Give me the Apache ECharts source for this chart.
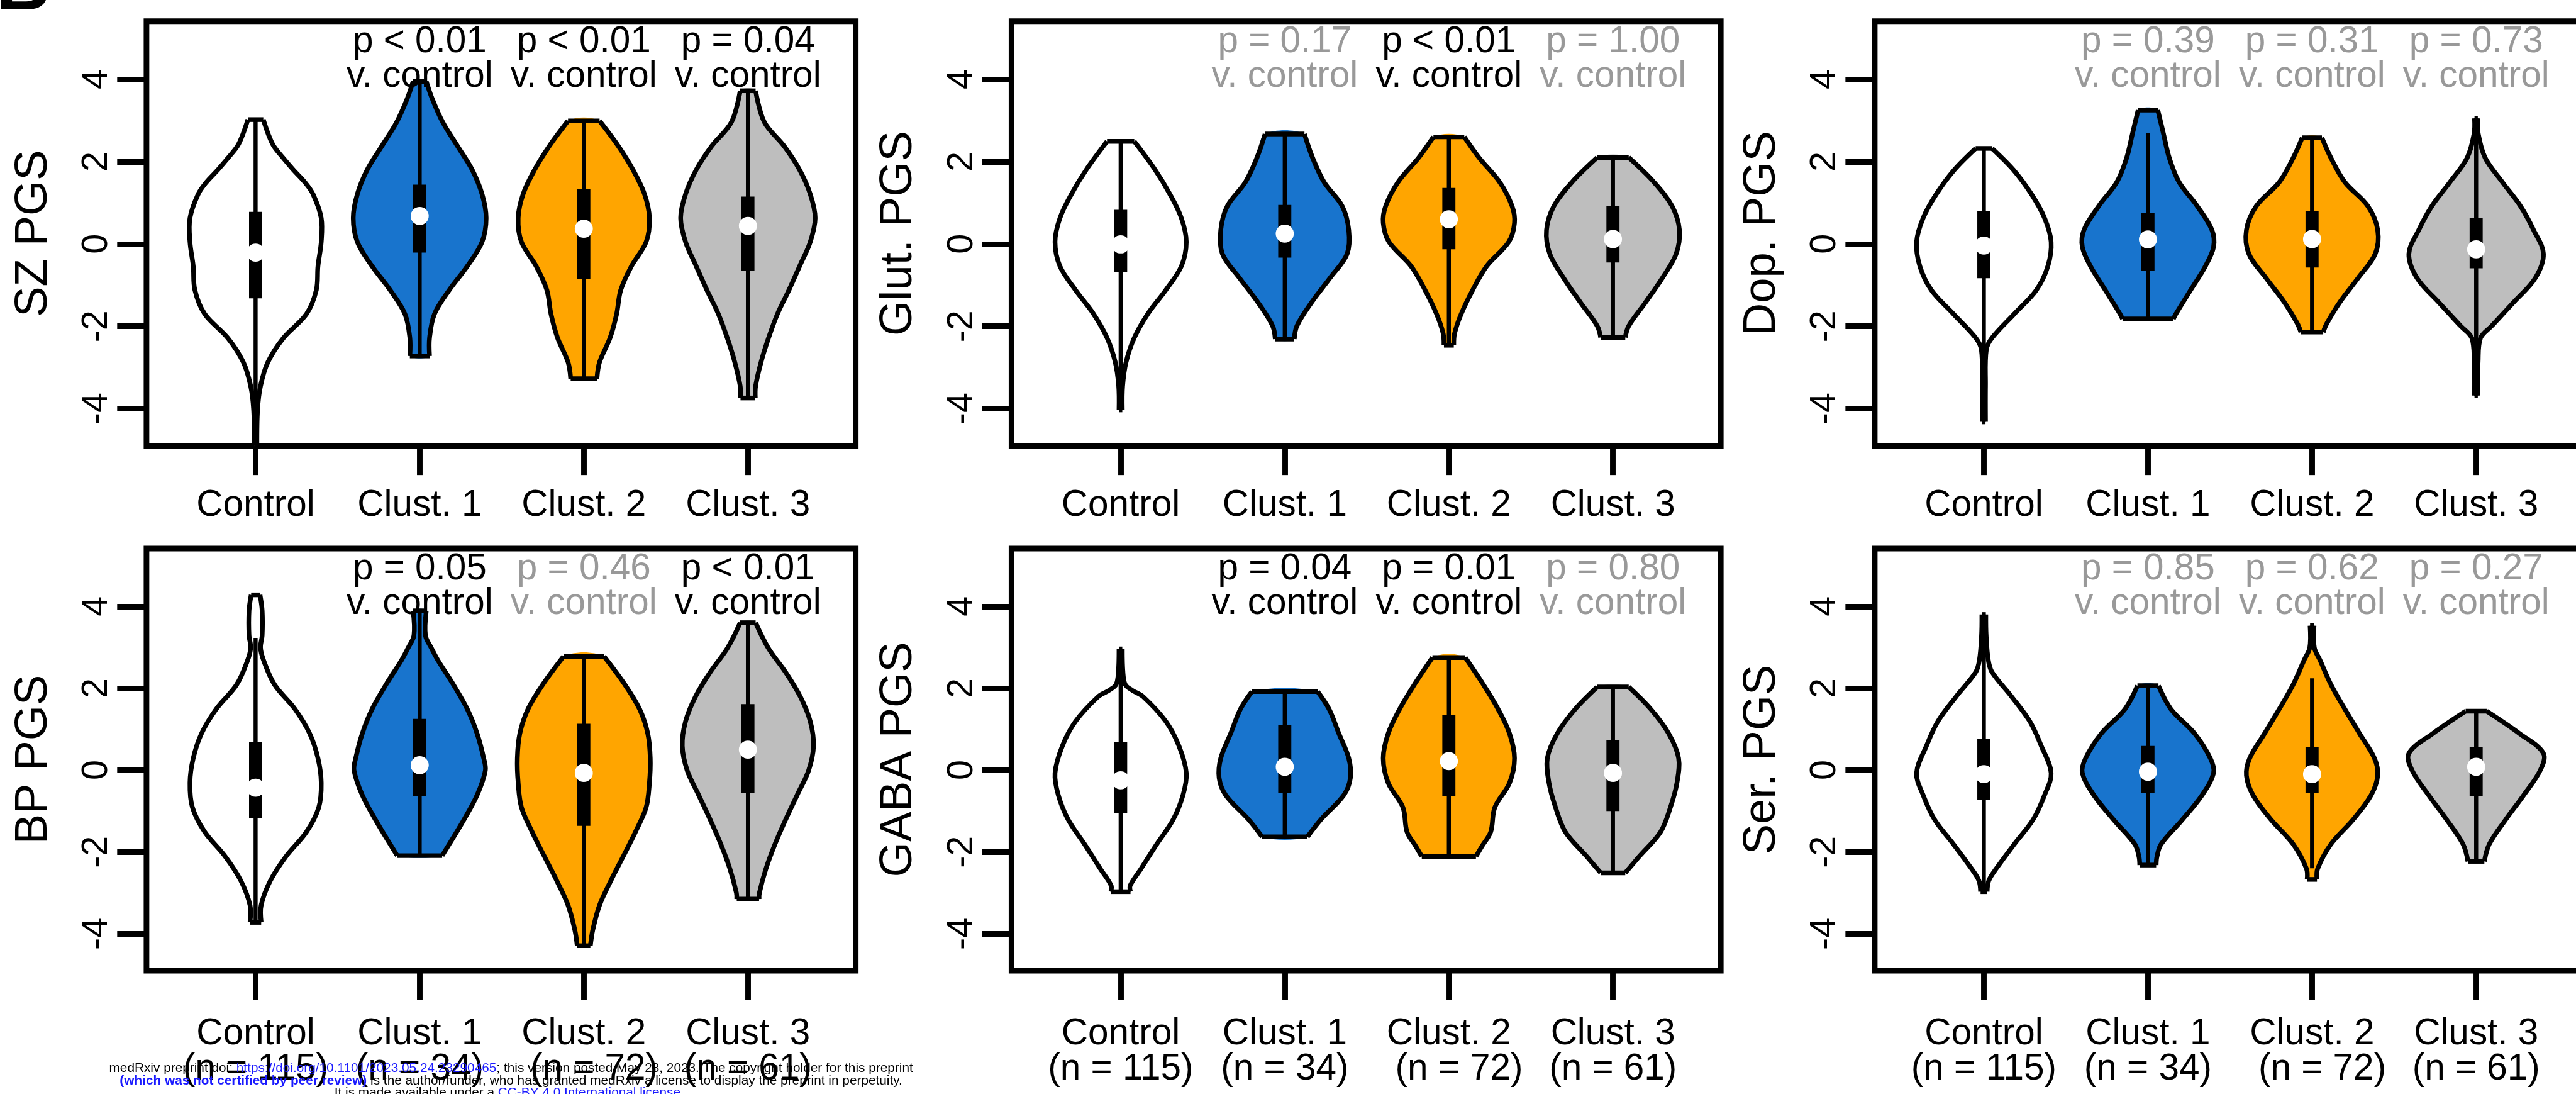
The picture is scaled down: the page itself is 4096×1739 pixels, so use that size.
<!DOCTYPE html>
<html>
<head>
<meta charset="utf-8">
<script src="https://cdn.jsdelivr.net/npm/echarts@6.0.0/dist/echarts.min.js"></script>
<style>
html, body { margin: 0; padding: 0; background: #fff; }
#chart { width: 4096px; height: 1739px; }
</style>
</head>
<body>
<div id="chart"></div>
<script>
const S = 0.991;
const FONT = 'Liberation Sans, Arial, Helvetica, sans-serif';
const SMOOTH = 0.35;

const groups = ['Control', 'Clust. 1', 'Clust. 2', 'Clust. 3'];
const groupSizes = ['(n = 115)', '(n = 34)', '  (n = 72)', '(n = 61)'];
const panelNames = ['SZ PGS', 'Glut. PGS', 'Dop. PGS', 'BP PGS', 'GABA PGS', 'Ser. PGS'];
const yTicks = [-4, -2, 0, 2, 4];
const groupFills = ['#ffffff', '#1874cd', '#ffa500', '#bebebe'];

// p values of each cluster v. control, and whether they are drawn black
const szP = ['p < 0.01', 'p < 0.01', 'p = 0.04'];
const szSig = [true, true, true];
const glutP = ['p = 0.17', 'p < 0.01', 'p = 1.00'];
const glutSig = [false, true, false];
const dopP = ['p = 0.39', 'p = 0.31', 'p = 0.73'];
const dopSig = [false, false, false];
const bpP = ['p = 0.05', 'p = 0.46', 'p < 0.01'];
const bpSig = [true, false, true];
const gabaP = ['p = 0.04', 'p = 0.01', 'p = 0.80'];
const gabaSig = [true, true, false];
const serP = ['p = 0.85', 'p = 0.62', 'p = 0.27'];
const serSig = [false, false, false];

// violin outlines, top to bottom: [PGS value, half width in group units]
const szControl = [[3.02,0.047],[2.67,0.077],[2.38,0.11],[2.08,0.17],[1.80,0.23],[1.50,0.30],[1.21,0.35],[0.63,0.40],[0.05,0.40],[-0.54,0.38],[-1.12,0.37],[-1.70,0.31],[-2.28,0.17],[-2.87,0.075],[-3.45,0.03],[-4.03,0.012],[-4.9,0.008]];
const szClust1 = [[3.95,0.04],[3.54,0.075],[2.96,0.14],[2.38,0.23],[1.80,0.32],[1.21,0.38],[0.63,0.405],[0.05,0.38],[-0.54,0.29],[-1.12,0.18],[-1.70,0.09],[-2.28,0.06],[-2.72,0.06]];
const szClust2 = [[2.99,0.096],[2.38,0.21],[1.80,0.30],[1.21,0.37],[0.63,0.40],[0.05,0.38],[-0.54,0.29],[-1.12,0.225],[-1.70,0.20],[-2.28,0.16],[-2.87,0.096],[-3.27,0.08]];
const szClust3 = [[3.72,0.047],[2.96,0.10],[2.38,0.22],[1.80,0.315],[1.21,0.38],[0.63,0.41],[0.05,0.38],[-0.54,0.315],[-1.12,0.25],[-1.70,0.18],[-2.28,0.126],[-2.87,0.08],[-3.45,0.047],[-3.74,0.045]];

const glutControl = [[2.49,0.083],[1.80,0.21],[1.21,0.30],[0.63,0.37],[0.05,0.40],[-0.54,0.37],[-1.12,0.275],[-1.70,0.165],[-2.28,0.083],[-2.87,0.033],[-3.45,0.012],[-4.03,0.01]];
const glutClust1 = [[2.67,0.12],[2.09,0.17],[1.50,0.24],[0.92,0.35],[0.34,0.39],[-0.24,0.38],[-0.83,0.275],[-1.41,0.165],[-1.99,0.074],[-2.31,0.058]];
const glutClust2 = [[2.60,0.094],[2.09,0.185],[1.50,0.31],[0.92,0.385],[0.51,0.40],[0.05,0.365],[-0.54,0.23],[-1.12,0.145],[-1.70,0.075],[-2.17,0.035],[-2.46,0.03]];
const glutClust3 = [[2.10,0.096],[1.50,0.25],[0.92,0.36],[0.34,0.405],[-0.24,0.385],[-0.83,0.30],[-1.41,0.20],[-1.99,0.096],[-2.27,0.075]];

const dopControl = [[2.32,0.05],[1.80,0.18],[1.21,0.29],[0.63,0.37],[0.05,0.41],[-0.54,0.39],[-1.12,0.32],[-1.70,0.185],[-2.28,0.05],[-2.57,0.015],[-3.45,0.01],[-4.32,0.01]];
const dopClust1 = [[3.25,0.06],[2.67,0.095],[2.09,0.13],[1.50,0.19],[0.92,0.30],[0.34,0.39],[-0.07,0.40],[-0.54,0.35],[-1.12,0.26],[-1.70,0.17],[-1.82,0.155]];
const dopClust2 = [[2.58,0.06],[2.09,0.115],[1.50,0.20],[0.92,0.34],[0.34,0.40],[-0.24,0.385],[-0.83,0.28],[-1.41,0.17],[-1.93,0.09],[-2.14,0.068]];
const dopClust3 = [[3.05,0.01],[2.67,0.013],[2.09,0.055],[1.50,0.16],[0.92,0.27],[0.34,0.35],[-0.24,0.41],[-0.83,0.36],[-1.41,0.23],[-1.99,0.095],[-2.28,0.027],[-2.87,0.012],[-3.68,0.01]];

const bpControl = [[4.28,0.027],[3.89,0.04],[3.29,0.04],[2.99,0.03],[2.69,0.048],[2.09,0.115],[1.49,0.24],[0.89,0.33],[0.29,0.38],[-0.31,0.40],[-0.91,0.385],[-1.51,0.31],[-2.11,0.185],[-2.70,0.09],[-3.30,0.034],[-3.72,0.034]];
const bpClust1 = [[3.89,0.04],[3.29,0.035],[2.99,0.07],[2.69,0.11],[2.09,0.205],[1.49,0.29],[0.89,0.35],[0.29,0.39],[-0.01,0.40],[-0.61,0.35],[-1.21,0.27],[-1.81,0.18],[-2.09,0.137]];
const bpClust2 = [[2.78,0.123],[2.09,0.25],[1.49,0.34],[0.89,0.39],[0.29,0.405],[-0.31,0.40],[-0.91,0.38],[-1.51,0.315],[-2.11,0.24],[-2.70,0.165],[-3.30,0.096],[-3.90,0.055],[-4.29,0.04]];
const bpClust3 = [[3.60,0.047],[2.99,0.123],[2.39,0.23],[1.79,0.32],[1.19,0.38],[0.59,0.40],[-0.01,0.37],[-0.61,0.30],[-1.21,0.23],[-1.81,0.165],[-2.41,0.11],[-3.00,0.07],[-3.15,0.068]];

const gabaControl = [[2.96,0.01],[2.39,0.014],[2.09,0.028],[1.95,0.07],[1.79,0.138],[1.19,0.275],[0.59,0.355],[-0.07,0.40],[-0.61,0.38],[-1.21,0.32],[-1.81,0.22],[-2.41,0.124],[-2.82,0.058],[-2.97,0.06]];
const gabaClust1 = [[1.92,0.20],[1.49,0.27],[0.89,0.33],[0.29,0.39],[-0.19,0.40],[-0.61,0.36],[-1.21,0.22],[-1.63,0.138]];
const gabaClust2 = [[2.75,0.10],[2.09,0.21],[1.49,0.30],[0.89,0.37],[0.29,0.40],[-0.31,0.37],[-0.91,0.28],[-1.51,0.255],[-1.87,0.20],[-2.11,0.165]];
const gabaClust3 = [[2.03,0.096],[1.49,0.23],[0.89,0.34],[0.29,0.40],[-0.31,0.39],[-0.91,0.35],[-1.51,0.29],[-2.11,0.16],[-2.51,0.075]];

const serControl = [[3.80,0.012],[3.29,0.014],[2.69,0.027],[2.39,0.05],[1.79,0.17],[1.19,0.28],[0.59,0.35],[-0.07,0.41],[-0.61,0.37],[-1.21,0.30],[-1.81,0.185],[-2.41,0.075],[-2.70,0.03],[-2.97,0.02]];
const serClust1 = [[2.06,0.064],[1.49,0.14],[0.89,0.285],[0.29,0.38],[-0.07,0.40],[-0.61,0.33],[-1.21,0.21],[-1.81,0.08],[-2.11,0.055],[-2.32,0.05]];
const serClust2 = [[3.53,0.012],[2.99,0.014],[2.69,0.048],[2.09,0.115],[1.49,0.20],[0.89,0.29],[0.29,0.38],[-0.13,0.40],[-0.61,0.36],[-1.21,0.25],[-1.81,0.115],[-2.41,0.034],[-2.67,0.03]];
const serClust3 = [[1.44,0.064],[0.89,0.265],[0.41,0.41],[-0.01,0.39],[-0.61,0.29],[-1.21,0.18],[-1.81,0.08],[-2.23,0.05]];

// box stats per group: [lower whisker, Q1, median, Q3, upper whisker]
const szBox = [[-4.9,-1.32,-0.21,0.78,3.02],[-2.72,-0.21,0.68,1.44,3.95],[-3.27,-0.86,0.37,1.33,2.99],[-3.74,-0.65,0.44,1.15,3.72]];
const glutBox = [[-4.03,-0.68,-0.01,0.83,2.49],[-2.31,-0.33,0.25,0.95,2.67],[-2.46,-0.13,0.60,1.36,2.60],[-2.27,-0.45,0.12,0.92,2.10]];
const dopBox = [[-4.32,-0.83,-0.04,0.80,2.32],[-1.82,-0.65,0.11,0.75,2.70],[-2.14,-0.57,0.12,0.80,2.58],[-3.68,-0.59,-0.13,0.63,3.05]];
const bpBox = [[-3.72,-1.18,-0.43,0.68,3.23],[-2.09,-0.64,0.12,1.25,3.89],[-4.29,-1.36,-0.07,1.13,2.78],[-3.15,-0.55,0.50,1.61,3.60]];
const gabaBox = [[-2.97,-1.06,-0.25,0.68,2.96],[-1.63,-0.55,0.08,1.10,1.92],[-2.11,-0.64,0.22,1.34,2.75],[-2.51,-1.00,-0.07,0.74,2.03]];
const serBox = [[-2.97,-0.73,-0.10,0.77,3.80],[-2.32,-0.55,-0.04,0.59,2.06],[-2.40,-0.55,-0.10,0.56,2.24],[-2.23,-0.64,0.08,0.56,1.44]];

const violins = [
  [szControl, szClust1, szClust2, szClust3],
  [glutControl, glutClust1, glutClust2, glutClust3],
  [dopControl, dopClust1, dopClust2, dopClust3],
  [bpControl, bpClust1, bpClust2, bpClust3],
  [gabaControl, gabaClust1, gabaClust2, gabaClust3],
  [serControl, serClust1, serClust2, serClust3]
];
const boxes = [szBox, glutBox, dopBox, bpBox, gabaBox, serBox];
const pTexts = [szP, glutP, dopP, bpP, gabaP, serP];
const pSig = [szSig, glutSig, dopSig, bpSig, gabaSig, serSig];

// layout in reference pixels
const colLeft = [235, 1623, 3008];
const colWidth = 1138;
const rowTop = [34, 880];
const rowHeight = [681, 677];
const X_MIN = 0.335, X_MAX = 4.657;
const Y_MIN = -4.9, Y_MAX = 5.41;

function outline() {
  return { stroke: '#000', lineWidth: 7.5 * S, fill: 'none', lineJoin: 'round' };
}

function violinRenderer(k) {
  return function (params, api) {
    const g = params.dataIndex;
    const xc = api.value(0);
    const prof = violins[k][g];
    const st = boxes[k][g];
    const left = prof.map(p => api.coord([xc - p[1], p[0]]));
    const right = prof.map(p => api.coord([xc + p[1], p[0]]));
    const n = prof.length - 1;
    const lo = api.coord([xc, st[0]]);
    const q1 = api.coord([xc, st[1]]);
    const med = api.coord([xc, st[2]]);
    const q3 = api.coord([xc, st[3]]);
    const hi = api.coord([xc, st[4]]);
    const boxW = 21 * S;
    return {
      type: 'group',
      children: [
        { type: 'polygon', shape: { points: left.concat(right.slice().reverse()), smooth: SMOOTH }, style: { fill: groupFills[g], stroke: 'none' } },
        { type: 'polyline', shape: { points: left, smooth: SMOOTH }, style: outline() },
        { type: 'polyline', shape: { points: right, smooth: SMOOTH }, style: outline() },
        { type: 'line', shape: { x1: left[0][0], y1: left[0][1], x2: right[0][0], y2: right[0][1] }, style: outline() },
        { type: 'line', shape: { x1: left[n][0], y1: left[n][1], x2: right[n][0], y2: right[n][1] }, style: outline() },
        { type: 'line', shape: { x1: lo[0], y1: lo[1], x2: hi[0], y2: hi[1] }, style: { stroke: '#000', lineWidth: 6.5 * S } },
        { type: 'rect', shape: { x: q3[0] - boxW / 2, y: q3[1], width: boxW, height: q1[1] - q3[1] }, style: { fill: '#000' } },
        { type: 'circle', shape: { cx: med[0], cy: med[1], r: 14.5 * S }, style: { fill: '#fff' } }
      ]
    };
  };
}

function pRenderer(k) {
  return function (params, api) {
    const i = params.dataIndex;
    const cx = api.coord([api.value(0), 0])[0];
    const top = params.coordSys.y;
    return {
      type: 'text',
      x: cx,
      y: top + 5 * S,
      style: {
        text: pTexts[k][i] + '\nv. control',
        fill: pSig[k][i] ? '#000' : '#999',
        fontSize: 59 * S, fontFamily: FONT, lineHeight: 56 * S,
        align: 'center', textAlign: 'center', verticalAlign: 'top', textVerticalAlign: 'top'
      }
    };
  };
}

const grids = [], xAxes = [], yAxes = [], series = [];
for (let k = 0; k < 6; k++) {
  const r = Math.floor(k / 3), c = k % 3;
  grids.push({
    left: colLeft[c] * S, top: rowTop[r] * S, width: colWidth * S, height: rowHeight[r] * S,
    show: true, borderColor: '#000', borderWidth: 9 * S, backgroundColor: 'transparent',
    containLabel: false, outerBoundsMode: 'none'
  });
  xAxes.push({
    gridIndex: k, type: 'value', min: X_MIN, max: X_MAX,
    splitLine: { show: false },
    axisLine: { show: false, onZero: false },
    axisTick: { show: true, customValues: [1, 2, 3, 4], length: 47 * S, lineStyle: { color: '#000', width: 9 * S } },
    axisLabel: {
      customValues: [1, 2, 3, 4],
      formatter: v => {
        const i = Math.round(v) - 1;
        return r === 0 ? groups[i] : groups[i] + '\n' + groupSizes[i];
      },
      margin: (r === 0 ? 67 : 73) * S,
      fontSize: 59 * S, lineHeight: (r === 0 ? 59 : 57) * S,
      color: '#000', fontFamily: FONT
    }
  });
  yAxes.push({
    gridIndex: k, type: 'value', min: Y_MIN, max: Y_MAX,
    name: panelNames[k], nameLocation: 'middle', nameRotate: 90, nameGap: 144 * S,
    nameTextStyle: { fontSize: 73 * S, lineHeight: 73 * S, color: '#000', fontFamily: FONT },
    splitLine: { show: false },
    axisLine: { show: false, onZero: false },
    axisTick: { show: true, customValues: yTicks, length: 47 * S, lineStyle: { color: '#000', width: 9 * S } },
    axisLabel: {
      customValues: yTicks, rotate: 90, margin: 50 * S,
      formatter: v => String(v),
      fontSize: 58 * S, lineHeight: 58 * S, color: '#000', fontFamily: FONT
    }
  });
  series.push({
    type: 'custom', xAxisIndex: k, yAxisIndex: k, silent: true, clip: false, z: 2,
    data: groups.map((g, i) => [i + 1, 0]),
    renderItem: violinRenderer(k)
  });
  series.push({
    type: 'custom', xAxisIndex: k, yAxisIndex: k, silent: true, z: 3,
    data: [[2, 0], [3, 0], [4, 0]],
    renderItem: pRenderer(k)
  });
}

const noteFont = { fontSize: 21 * S, fontFamily: FONT };
const plain = Object.assign({ fill: '#000', color: '#000' }, noteFont);
const link = Object.assign({ fill: '#1a1aff', color: '#1a1aff' }, noteFont);
const linkBold = Object.assign({ fontWeight: 'bold' }, link);
const noteStyle = Object.assign({ align: 'center', textAlign: 'center', verticalAlign: 'middle', textVerticalAlign: 'middle' }, noteFont);

const option = {
  backgroundColor: '#fff',
  animation: false,
  grid: grids,
  xAxis: xAxes,
  yAxis: yAxes,
  series: series,
  graphic: [
    {
      type: 'text', left: -6 * S, top: -78 * S, z: 10,
      style: { text: 'B', fontSize: 120 * S, fontWeight: 'bold', fontFamily: FONT, fill: '#000' }
    },
    {
      type: 'text', x: 820 * S, y: 1714 * S, z: 10,
      style: Object.assign({
        text: '{a|medRxiv preprint doi: }{b|https://doi.org/10.1101/2023.05.24.23290465}{a|; this version posted May 28, 2023. The copyright holder for this preprint}',
        rich: { a: plain, b: link }
      }, noteStyle)
    },
    {
      type: 'text', x: 820 * S, y: 1734 * S, z: 10,
      style: Object.assign({
        text: '{b|(which was not certified by peer review)}{a| is the author/funder, who has granted medRxiv a license to display the preprint in perpetuity.}',
        rich: { a: plain, b: linkBold }
      }, noteStyle)
    },
    {
      type: 'text', x: 820 * S, y: 1753 * S, z: 10,
      style: Object.assign({
        text: '{a|It is made available under a }{b|CC-BY 4.0 International license}{a| .}',
        rich: { a: plain, b: link }
      }, noteStyle)
    }
  ]
};

const chart = echarts.init(document.getElementById('chart'), null, { renderer: 'canvas' });
chart.setOption(option);
</script>
</body>
</html>
